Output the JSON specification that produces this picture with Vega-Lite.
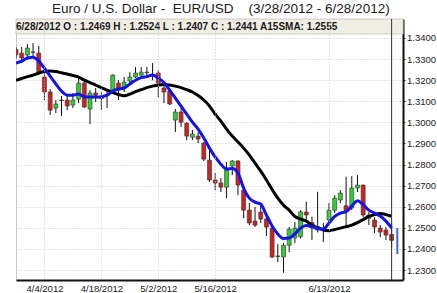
{
  "$schema": "https://vega.github.io/schema/vega-lite/v6.json",
  "width": 387,
  "height": 261,
  "autosize": {"type": "none"},
  "padding": {"left": 16, "top": 19, "right": 34, "bottom": 13},
  "background": "white",
  "title": {
    "text": "Euro / U.S. Dollar -\u00a0\u00a0EUR/USD\u00a0\u00a0\u00a0\u00a0(3/28/2012 - 6/28/2012)",
    "anchor": "start", "frame": "group", "dx": 36, "offset": 3,
    "font": "Liberation Sans", "fontSize": 13.5, "fontWeight": "normal", "color": "#1a1a1a"
  },
  "config": {
    "view": {"stroke": "#c8c8c8"},
    "axis": {"labelFont": "Liberation Sans", "labelColor": "#222", "labelOverlap": false},
    "axisY": {"format": ".4f", "title": null, "grid": true, "gridDash": [1, 2], "gridColor": "#c8c8c8",
      "domainColor": "#111", "domainWidth": 2, "tickSize": 2, "tickColor": "#333",
      "labelPadding": 1.5, "labelFontSize": 9.5, "labelOverlap": false}
  },
  "data": {"values": [
    {"d": "2012-03-28", "o": 1.3345, "h": 1.3358, "l": 1.3303, "c": 1.3320, "fast": 1.3281, "sma15": 1.3200},
    {"d": "2012-03-29", "o": 1.3328, "h": 1.3357, "l": 1.3281, "c": 1.3305, "fast": 1.3290, "sma15": 1.3208},
    {"d": "2012-03-30", "o": 1.3319, "h": 1.3371, "l": 1.3300, "c": 1.3352, "fast": 1.3305, "sma15": 1.3217},
    {"d": "2012-04-02", "o": 1.3334, "h": 1.3376, "l": 1.3305, "c": 1.3332, "fast": 1.3309, "sma15": 1.3224},
    {"d": "2012-04-03", "o": 1.3328, "h": 1.3362, "l": 1.3224, "c": 1.3240, "fast": 1.3290, "sma15": 1.3234},
    {"d": "2012-04-04", "o": 1.3215, "h": 1.3234, "l": 1.3106, "c": 1.3144, "fast": 1.3257, "sma15": 1.3241},
    {"d": "2012-04-05", "o": 1.3144, "h": 1.3158, "l": 1.3035, "c": 1.3058, "fast": 1.3219, "sma15": 1.3243},
    {"d": "2012-04-06", "o": 1.3068, "h": 1.3106, "l": 1.3044, "c": 1.3087, "fast": 1.3182, "sma15": 1.3241},
    {"d": "2012-04-09", "o": 1.3104, "h": 1.3125, "l": 1.3030, "c": 1.3106, "fast": 1.3148, "sma15": 1.3235},
    {"d": "2012-04-10", "o": 1.3106, "h": 1.3129, "l": 1.3058, "c": 1.3078, "fast": 1.3129, "sma15": 1.3229},
    {"d": "2012-04-11", "o": 1.3082, "h": 1.3139, "l": 1.3068, "c": 1.3106, "fast": 1.3129, "sma15": 1.3222},
    {"d": "2012-04-12", "o": 1.3110, "h": 1.3210, "l": 1.3091, "c": 1.3186, "fast": 1.3134, "sma15": 1.3215},
    {"d": "2012-04-13", "o": 1.3186, "h": 1.3200, "l": 1.3068, "c": 1.3073, "fast": 1.3122, "sma15": 1.3200},
    {"d": "2012-04-16", "o": 1.3063, "h": 1.3153, "l": 1.2992, "c": 1.3139, "fast": 1.3120, "sma15": 1.3189},
    {"d": "2012-04-17", "o": 1.3139, "h": 1.3163, "l": 1.3096, "c": 1.3129, "fast": 1.3120, "sma15": 1.3177},
    {"d": "2012-04-18", "o": 1.3115, "h": 1.3144, "l": 1.3058, "c": 1.3113, "fast": 1.3122, "sma15": 1.3165},
    {"d": "2012-04-19", "o": 1.3129, "h": 1.3153, "l": 1.3068, "c": 1.3127, "fast": 1.3129, "sma15": 1.3153},
    {"d": "2012-04-20", "o": 1.3139, "h": 1.3228, "l": 1.3135, "c": 1.3224, "fast": 1.3148, "sma15": 1.3141},
    {"d": "2012-04-23", "o": 1.3186, "h": 1.3200, "l": 1.3106, "c": 1.3153, "fast": 1.3158, "sma15": 1.3132},
    {"d": "2012-04-24", "o": 1.3167, "h": 1.3215, "l": 1.3144, "c": 1.3191, "fast": 1.3163, "sma15": 1.3126},
    {"d": "2012-04-25", "o": 1.3196, "h": 1.3238, "l": 1.3186, "c": 1.3215, "fast": 1.3182, "sma15": 1.3134},
    {"d": "2012-04-26", "o": 1.3215, "h": 1.3262, "l": 1.3210, "c": 1.3234, "fast": 1.3200, "sma15": 1.3146},
    {"d": "2012-04-27", "o": 1.3224, "h": 1.3262, "l": 1.3210, "c": 1.3238, "fast": 1.3212, "sma15": 1.3155},
    {"d": "2012-04-30", "o": 1.3238, "h": 1.3262, "l": 1.3215, "c": 1.3236, "fast": 1.3217, "sma15": 1.3165},
    {"d": "2012-05-01", "o": 1.3226, "h": 1.3281, "l": 1.3200, "c": 1.3224, "fast": 1.3224, "sma15": 1.3172},
    {"d": "2012-05-02", "o": 1.3234, "h": 1.3248, "l": 1.3120, "c": 1.3186, "fast": 1.3210, "sma15": 1.3177},
    {"d": "2012-05-03", "o": 1.3163, "h": 1.3177, "l": 1.3091, "c": 1.3144, "fast": 1.3189, "sma15": 1.3179},
    {"d": "2012-05-04", "o": 1.3148, "h": 1.3163, "l": 1.3082, "c": 1.3087, "fast": 1.3153, "sma15": 1.3177},
    {"d": "2012-05-07", "o": 1.3011, "h": 1.3063, "l": 1.2954, "c": 1.3049, "fast": 1.3115, "sma15": 1.3172},
    {"d": "2012-05-08", "o": 1.3049, "h": 1.3068, "l": 1.2978, "c": 1.3001, "fast": 1.3077, "sma15": 1.3165},
    {"d": "2012-05-09", "o": 1.2996, "h": 1.3001, "l": 1.2916, "c": 1.2935, "fast": 1.3039, "sma15": 1.3155},
    {"d": "2012-05-10", "o": 1.2930, "h": 1.2964, "l": 1.2916, "c": 1.2945, "fast": 1.3001, "sma15": 1.3144},
    {"d": "2012-05-11", "o": 1.2935, "h": 1.2954, "l": 1.2902, "c": 1.2921, "fast": 1.2968, "sma15": 1.3127},
    {"d": "2012-05-14", "o": 1.2902, "h": 1.2907, "l": 1.2817, "c": 1.2826, "fast": 1.2926, "sma15": 1.3106},
    {"d": "2012-05-15", "o": 1.2821, "h": 1.2869, "l": 1.2717, "c": 1.2727, "fast": 1.2878, "sma15": 1.3077},
    {"d": "2012-05-16", "o": 1.2727, "h": 1.2760, "l": 1.2679, "c": 1.2713, "fast": 1.2836, "sma15": 1.3039},
    {"d": "2012-05-17", "o": 1.2713, "h": 1.2736, "l": 1.2670, "c": 1.2693, "fast": 1.2802, "sma15": 1.3006},
    {"d": "2012-05-18", "o": 1.2693, "h": 1.2812, "l": 1.2641, "c": 1.2774, "fast": 1.2779, "sma15": 1.2968},
    {"d": "2012-05-21", "o": 1.2793, "h": 1.2821, "l": 1.2750, "c": 1.2817, "fast": 1.2782, "sma15": 1.2935},
    {"d": "2012-05-22", "o": 1.2817, "h": 1.2821, "l": 1.2655, "c": 1.2703, "fast": 1.2760, "sma15": 1.2907},
    {"d": "2012-05-23", "o": 1.2679, "h": 1.2689, "l": 1.2546, "c": 1.2584, "fast": 1.2689, "sma15": 1.2878},
    {"d": "2012-05-24", "o": 1.2584, "h": 1.2618, "l": 1.2513, "c": 1.2523, "fast": 1.2641, "sma15": 1.2845},
    {"d": "2012-05-25", "o": 1.2532, "h": 1.2599, "l": 1.2504, "c": 1.2513, "fast": 1.2622, "sma15": 1.2807},
    {"d": "2012-05-28", "o": 1.2575, "h": 1.2608, "l": 1.2523, "c": 1.2542, "fast": 1.2613, "sma15": 1.2769},
    {"d": "2012-05-29", "o": 1.2542, "h": 1.2561, "l": 1.2461, "c": 1.2504, "fast": 1.2561, "sma15": 1.2727},
    {"d": "2012-05-30", "o": 1.2499, "h": 1.2509, "l": 1.2357, "c": 1.2362, "fast": 1.2509, "sma15": 1.2682},
    {"d": "2012-05-31", "o": 1.2367, "h": 1.2423, "l": 1.2338, "c": 1.2365, "fast": 1.2471, "sma15": 1.2641},
    {"d": "2012-06-01", "o": 1.2362, "h": 1.2428, "l": 1.2287, "c": 1.2418, "fast": 1.2450, "sma15": 1.2608},
    {"d": "2012-06-04", "o": 1.2418, "h": 1.2504, "l": 1.2385, "c": 1.2494, "fast": 1.2452, "sma15": 1.2584},
    {"d": "2012-06-05", "o": 1.2452, "h": 1.2528, "l": 1.2428, "c": 1.2499, "fast": 1.2471, "sma15": 1.2554},
    {"d": "2012-06-06", "o": 1.2458, "h": 1.2584, "l": 1.2450, "c": 1.2576, "fast": 1.2499, "sma15": 1.2542},
    {"d": "2012-06-07", "o": 1.2575, "h": 1.2624, "l": 1.2537, "c": 1.2561, "fast": 1.2511, "sma15": 1.2532},
    {"d": "2012-06-08", "o": 1.2525, "h": 1.2553, "l": 1.2442, "c": 1.2500, "fast": 1.2506, "sma15": 1.2513},
    {"d": "2012-06-11", "o": 1.2506, "h": 1.2671, "l": 1.2478, "c": 1.2490, "fast": 1.2497, "sma15": 1.2501},
    {"d": "2012-06-12", "o": 1.2497, "h": 1.2523, "l": 1.2433, "c": 1.2499, "fast": 1.2494, "sma15": 1.2490},
    {"d": "2012-06-13", "o": 1.2537, "h": 1.2618, "l": 1.2513, "c": 1.2584, "fast": 1.2523, "sma15": 1.2487},
    {"d": "2012-06-14", "o": 1.2584, "h": 1.2655, "l": 1.2570, "c": 1.2641, "fast": 1.2554, "sma15": 1.2492},
    {"d": "2012-06-15", "o": 1.2632, "h": 1.2679, "l": 1.2618, "c": 1.2665, "fast": 1.2570, "sma15": 1.2499},
    {"d": "2012-06-18", "o": 1.2605, "h": 1.2742, "l": 1.2505, "c": 1.2580, "fast": 1.2577, "sma15": 1.2506},
    {"d": "2012-06-19", "o": 1.2594, "h": 1.2745, "l": 1.2584, "c": 1.2689, "fast": 1.2603, "sma15": 1.2513},
    {"d": "2012-06-20", "o": 1.2689, "h": 1.2750, "l": 1.2670, "c": 1.2703, "fast": 1.2629, "sma15": 1.2525},
    {"d": "2012-06-21", "o": 1.2703, "h": 1.2705, "l": 1.2550, "c": 1.2561, "fast": 1.2610, "sma15": 1.2539},
    {"d": "2012-06-22", "o": 1.2561, "h": 1.2575, "l": 1.2513, "c": 1.2546, "fast": 1.2584, "sma15": 1.2554},
    {"d": "2012-06-25", "o": 1.2537, "h": 1.2551, "l": 1.2475, "c": 1.2504, "fast": 1.2570, "sma15": 1.2563},
    {"d": "2012-06-26", "o": 1.2499, "h": 1.2513, "l": 1.2456, "c": 1.2480, "fast": 1.2556, "sma15": 1.2568},
    {"d": "2012-06-27", "o": 1.2490, "h": 1.2504, "l": 1.2442, "c": 1.2466, "fast": 1.2532, "sma15": 1.2563},
    {"d": "2012-06-28", "o": 1.2469, "h": 1.2524, "l": 1.2407, "c": 1.2441, "fast": 1.2499, "sma15": 1.2555},
    {"d": "2012-06-29", "mk_lo": 1.2376, "mk_hi": 1.2499}
  ]},
  "encoding": {
    "x": {
      "field": "d", "type": "ordinal",
      "scale": {"type": "point", "padding": 0, "domain": [
        "2012-03-28","2012-03-29","2012-03-30",
        "2012-04-02","2012-04-03","2012-04-04","2012-04-05","2012-04-06",
        "2012-04-09","2012-04-10","2012-04-11","2012-04-12","2012-04-13",
        "2012-04-16","2012-04-17","2012-04-18","2012-04-19","2012-04-20",
        "2012-04-23","2012-04-24","2012-04-25","2012-04-26","2012-04-27",
        "2012-04-30","2012-05-01","2012-05-02","2012-05-03","2012-05-04",
        "2012-05-07","2012-05-08","2012-05-09","2012-05-10","2012-05-11",
        "2012-05-14","2012-05-15","2012-05-16","2012-05-17","2012-05-18",
        "2012-05-21","2012-05-22","2012-05-23","2012-05-24","2012-05-25",
        "2012-05-28","2012-05-29","2012-05-30","2012-05-31","2012-06-01",
        "2012-06-04","2012-06-05","2012-06-06","2012-06-07","2012-06-08",
        "2012-06-11","2012-06-12","2012-06-13","2012-06-14","2012-06-15",
        "2012-06-18","2012-06-19","2012-06-20","2012-06-21","2012-06-22",
        "2012-06-25","2012-06-26","2012-06-27","2012-06-28","2012-06-29",
        "2012-07-02"]},
      "axis": {
        "values": ["2012-04-04", "2012-04-18", "2012-05-02", "2012-05-16", "2012-06-13"],
        "labelExpr": "timeFormat(toDate(datum.value + 'T12:00:00'), '%-m/%-d/%Y')",
        "labelAngle": 0, "title": null, "grid": true, "gridDash": [1, 2], "gridColor": "#c8c8c8",
        "domainColor": "#111", "domainWidth": 2, "ticks": false, "tickSize": 0,
        "labelPadding": 3, "labelFontSize": 9.5
      }
    }
  },
  "layer": [
    {
      "data": {"values": [{}]},
      "mark": {"type": "rect", "fill": "#f0ede3", "stroke": "#cfcac0", "strokeWidth": 1},
      "encoding": {
        "x": {"datum": "2012-03-28", "type": "ordinal"},
        "x2": {"datum": "2012-07-02"},
        "y": {"datum": 1.3490, "type": "quantitative", "scale": {"domain": [1.2253, 1.3490], "zero": false, "nice": false},
          "axis": {"orient": "right", "values": [1.23, 1.24, 1.25, 1.26, 1.27, 1.28, 1.29, 1.30, 1.31, 1.32, 1.33, 1.34]}},
        "y2": {"datum": 1.3419}
      }
    },
    {
      "mark": {"type": "rule", "color": "#111", "strokeWidth": 1, "clip": true},
      "encoding": {
        "y": {"field": "l", "type": "quantitative", "scale": {"domain": [1.2253, 1.3490], "zero": false, "nice": false},
          "axis": {"orient": "right", "values": [1.23, 1.24, 1.25, 1.26, 1.27, 1.28, 1.29, 1.30, 1.31, 1.32, 1.33, 1.34]}},
        "y2": {"field": "h"}
      }
    },
    {
      "mark": {"type": "bar", "size": 4, "stroke": "#333", "strokeWidth": 0.6, "clip": true},
      "encoding": {
        "y": {"field": "o", "type": "quantitative", "scale": {"domain": [1.2253, 1.3490], "zero": false, "nice": false},
          "axis": {"orient": "right", "values": [1.23, 1.24, 1.25, 1.26, 1.27, 1.28, 1.29, 1.30, 1.31, 1.32, 1.33, 1.34]}},
        "y2": {"field": "c"},
        "fill": {"condition": [
          {"test": "abs(datum.c - datum.o) < 0.0004", "value": "#111"},
          {"test": "datum.c > datum.o", "value": "#33cc33"}], "value": "#cc2222"}
      }
    },
    {
      "mark": {"type": "line", "color": "#000", "strokeWidth": 3, "interpolate": "monotone", "clip": true},
      "encoding": {
        "y": {"field": "sma15", "type": "quantitative", "scale": {"domain": [1.2253, 1.3490], "zero": false, "nice": false},
          "axis": {"orient": "right", "values": [1.23, 1.24, 1.25, 1.26, 1.27, 1.28, 1.29, 1.30, 1.31, 1.32, 1.33, 1.34]}}
      }
    },
    {
      "mark": {"type": "line", "color": "#1414e6", "strokeWidth": 3, "interpolate": "monotone", "clip": true},
      "encoding": {
        "y": {"field": "fast", "type": "quantitative", "scale": {"domain": [1.2253, 1.3490], "zero": false, "nice": false},
          "axis": {"orient": "right", "values": [1.23, 1.24, 1.25, 1.26, 1.27, 1.28, 1.29, 1.30, 1.31, 1.32, 1.33, 1.34]}}
      }
    },
    {
      "data": {"values": [{}]},
      "mark": {"type": "rule", "color": "#333", "strokeWidth": 1},
      "encoding": {
        "x": {"datum": "2012-06-28", "type": "ordinal"}
      }
    },
    {
      "mark": {"type": "rule", "color": "#3b6cc8", "strokeWidth": 2},
      "encoding": {
        "y": {"field": "mk_lo", "type": "quantitative", "scale": {"domain": [1.2253, 1.3490], "zero": false, "nice": false},
          "axis": {"orient": "right", "values": [1.23, 1.24, 1.25, 1.26, 1.27, 1.28, 1.29, 1.30, 1.31, 1.32, 1.33, 1.34]}},
        "y2": {"field": "mk_hi"}
      }
    },
    {
      "data": {"values": [{}]},
      "mark": {"type": "text", "text": "6/28/2012 O : 1.2469 H : 1.2524 L : 1.2407 C : 1.2441 A15SMA: 1.2555",
        "align": "left", "baseline": "middle", "font": "Liberation Sans", "fontWeight": "bold", "fontSize": 10, "color": "#1a1a1a"},
      "encoding": {
        "x": {"datum": "2012-03-28", "type": "ordinal"},
        "y": {"datum": 1.3451, "type": "quantitative", "scale": {"domain": [1.2253, 1.3490], "zero": false, "nice": false},
          "axis": {"orient": "right", "values": [1.23, 1.24, 1.25, 1.26, 1.27, 1.28, 1.29, 1.30, 1.31, 1.32, 1.33, 1.34]}}
      }
    }
  ]
}
